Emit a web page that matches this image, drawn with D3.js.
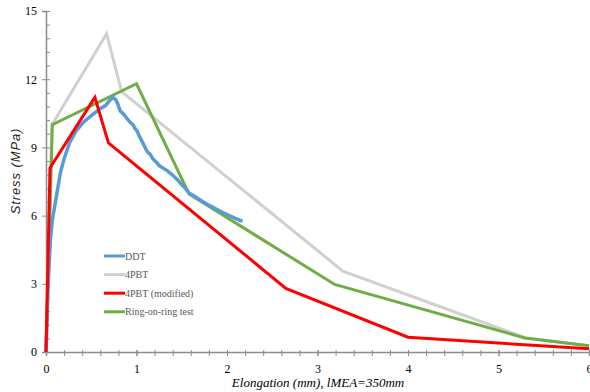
<!DOCTYPE html>
<html>
<head>
<meta charset="utf-8">
<script src="https://cdn.jsdelivr.net/npm/d3@7"></script>
<style>
  body { margin: 0; background: #fff; }
</style>
</head>
<body>
<svg id="chart" width="590" height="392"></svg>
<script>
const width = 590;
const height = 392;
const margin = { top: 11, right: 1, bottom: 40, left: 46 };

// series data: [elongation mm, stress MPa]
const ddt = [[0,0],[0.01,1.2],[0.02,2.6],[0.035,3.9],[0.05,5],[0.07,5.8],[0.1,6.5],[0.13,7.2],[0.16,7.9],[0.2,8.5],
  [0.26,9.2],[0.33,9.7],[0.41,10.1],[0.5,10.4],[0.6,10.7],[0.66,10.85],[0.7,11.05],[0.74,11.2],[0.77,11.1],
  [0.79,10.95],[0.82,10.6],[0.85,10.5],[0.87,10.4],[0.9,10.25],[0.93,10.1],[0.96,10.0],[0.98,9.85],[1.01,9.7],
  [1.03,9.5],[1.05,9.35],[1.07,9.2],[1.1,8.95],[1.12,8.8],[1.15,8.7],[1.18,8.5],[1.22,8.35],[1.25,8.2],[1.29,8.1],
  [1.33,8.0],[1.38,7.85],[1.42,7.7],[1.46,7.55],[1.5,7.35],[1.54,7.2],[1.58,7.0],[1.64,6.85],[1.7,6.7],
  [1.78,6.5],[1.85,6.35],[1.92,6.2],[2.0,6.05],[2.08,5.9],[2.17,5.75]];
const pbt4 = [[0,0],[0.066,10.0],[0.67,14.0],[0.835,11.45],[3.28,3.56],[5.3,0.62],[6,0.27]];
const pbt4mod = [[0,0],[0.044,8.1],[0.54,11.2],[0.69,9.2],[2.65,2.8],[4.0,0.65],[6,0.14]];
const ringOnRing = [[0,0],[0.07,10.0],[1.0,11.8],[1.58,6.95],[3.19,2.97],[5.29,0.62],[6,0.27]];

const seriesNames = ["DDT", "4PBT", "4PBT (modified)", "Ring-on-ring test"];
const seriesColors = ["#5b9bd5", "#d0d0d0", "#ff0000", "#70ad47"];
const seriesData = [ddt, pbt4, pbt4mod, ringOnRing];

const xTicks = [0, 1, 2, 3, 4, 5, 6];
const yTicks = [0, 3, 6, 9, 12, 15];

const svg = d3.select("#chart");

const x = d3.scaleLinear().domain([0, 6]).range([margin.left, 589]);
const y = d3.scaleLinear().domain([0, 15]).range([352, margin.top]);

const axisColor = "#8c8c8c";
const serif = '"Liberation Serif", "DejaVu Serif", serif';

// y axis
const yAxis = svg.append("g").attr("transform", `translate(${margin.left},0)`);
yAxis.append("g")
  .call(d3.axisLeft(y).tickValues(d3.range(0, 15.01, 0.6)).tickSize(-4).tickFormat(""))
  .call(g => g.select(".domain").remove())
  .selectAll("line").attr("stroke", axisColor);
yAxis.append("g")
  .call(d3.axisLeft(y).tickValues(yTicks).tickSize(4).tickPadding(5).tickFormat(d3.format("d")))
  .call(g => g.select(".domain").attr("stroke", axisColor).attr("stroke-width", 1.5))
  .call(g => g.selectAll("line").attr("stroke", axisColor));

// x axis
const xAxis = svg.append("g").attr("transform", `translate(0,352)`);
xAxis.append("g")
  .call(d3.axisBottom(x).tickValues(d3.range(0, 6.01, 0.2)).tickSize(4).tickFormat(""))
  .call(g => g.select(".domain").remove())
  .selectAll("line").attr("stroke", axisColor).attr("y1", -2);
xAxis.append("g")
  .call(d3.axisBottom(x).tickValues(xTicks).tickSize(4).tickPadding(8).tickFormat(d3.format("d")))
  .call(g => g.select(".domain").attr("stroke", axisColor).attr("stroke-width", 1.5))
  .call(g => g.selectAll("line").attr("stroke", axisColor).attr("y1", -2));

svg.selectAll(".tick text")
  .style("font-family", serif)
  .style("font-size", "12px")
  .attr("fill", "#000");

// lines
const line = d3.line().x(d => x(d[0])).y(d => y(d[1]));
const drawOrder = [1, 3, 0, 2];
svg.append("g").selectAll("path")
  .data(drawOrder)
  .enter()
  .append("path")
  .attr("d", i => line(seriesData[i]))
  .attr("fill", "none")
  .attr("stroke", i => seriesColors[i])
  .attr("stroke-width", i => i === 0 ? 3.5 : 3)
  .attr("stroke-linejoin", "miter");

// legend
const legend = svg.append("g").attr("transform", "translate(104,256)");
seriesNames.forEach((name, i) => {
  const row = legend.append("g").attr("transform", `translate(0,${i * 18.6})`);
  row.append("line")
    .attr("x1", 0).attr("x2", 21)
    .attr("stroke", seriesColors[i]).attr("stroke-width", 3);
  row.append("text")
    .attr("x", 21).attr("y", 3.5)
    .style("font-family", serif)
    .style("font-size", "10px")
    .attr("fill", "#595959")
    .text(name);
});

// axis titles
svg.append("text")
  .attr("transform", "translate(20,171) rotate(-90)")
  .attr("text-anchor", "middle")
  .style("font-family", '"Liberation Sans", sans-serif')
  .style("font-size", "13px")
  .style("letter-spacing", "0.9px")
  .style("font-style", "italic")
  .attr("fill", "#222")
  .text("Stress (MPa)");

svg.append("text")
  .attr("x", 318).attr("y", 387)
  .attr("text-anchor", "middle")
  .style("font-family", serif)
  .style("font-size", "13px")
  .style("font-style", "italic")
  .text("Elongation (mm), lMEA=350mm");
</script>
</body>
</html>
